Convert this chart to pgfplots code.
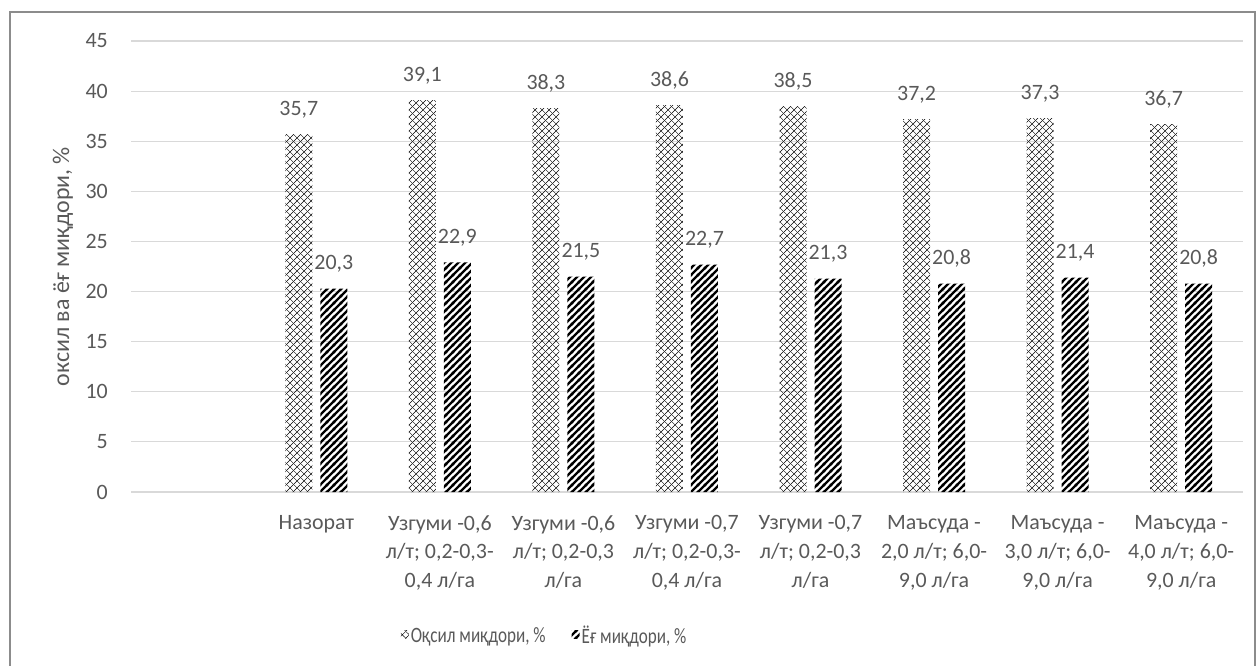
\documentclass[border=0pt]{standalone}
\usepackage{fontspec}
\setmainfont{Carlito}
\newfontfamily\legfont[FakeStretch=0.78]{Carlito}
\usepackage{pgfplots}
\pgfplotsset{compat=1.18}
\usetikzlibrary{patterns}
\definecolor{txt}{HTML}{595959}
\definecolor{gridc}{HTML}{D9D9D9}
\definecolor{framec}{HTML}{8C8C8C}
\pgfdeclarepatternformonly{stripesB}{\pgfqpoint{0bp}{0bp}}{\pgfqpoint{7.3bp}{7.3bp}}{\pgfqpoint{7.3bp}{7.3bp}}{
  \pgfsetlinewidth{2.5bp}
  \pgfpathmoveto{\pgfqpoint{-9.3bp}{-2bp}}\pgfpathlineto{\pgfqpoint{2bp}{9.3bp}}
  \pgfpathmoveto{\pgfqpoint{-2bp}{-2bp}}\pgfpathlineto{\pgfqpoint{9.3bp}{9.3bp}}
  \pgfpathmoveto{\pgfqpoint{5.3bp}{-2bp}}\pgfpathlineto{\pgfqpoint{16.6bp}{9.3bp}}
  \pgfusepath{stroke}}
\pgfdeclarepatternformonly{weaveA}{\pgfqpoint{0bp}{0bp}}{\pgfqpoint{7bp}{7bp}}{\pgfqpoint{7bp}{7bp}}{
  \pgfsetlinewidth{0.45bp}
  \pgfpathmoveto{\pgfqpoint{-1bp}{-1bp}}\pgfpathlineto{\pgfqpoint{8bp}{8bp}}
  \pgfpathmoveto{\pgfqpoint{-1bp}{8bp}}\pgfpathlineto{\pgfqpoint{8bp}{-1bp}}
  \pgfusepath{stroke}}
\begin{document}
\begin{tikzpicture}[x=1bp,y=1bp]
\path[use as bounding box] (0,0) rectangle (1258,-666);
\draw[framec, line width=2bp] (10,-690) -- (10,-12) -- (1255,-12) -- (1255,-690);
\begin{axis}[
  at={(131bp,-492bp)}, anchor=south west,
  scale only axis, width=1112bp, height=451bp,
  xmin=-0.5, xmax=8.5, ymin=0, ymax=45,
  enlargelimits=false,
  ybar=8bp, bar width=27bp,
  axis line style={draw=none},
  major tick length=0pt,
  ymajorgrids, grid style={gridc, line width=1.2bp},
  ytick={0,5,...,45},
  xtick={1,...,8},
  xticklabels={Назорат,
    {Узгуми -0,6\\л/т; 0,2-0,3-\\0,4 л/га},
    {Узгуми -0,6\\л/т; 0,2-0,3\\л/га},
    {Узгуми -0,7\\л/т; 0,2-0,3-\\0,4 л/га},
    {Узгуми -0,7\\л/т; 0,2-0,3\\л/га},
    {Маъсуда -\\2,0 л/т; 6,0-\\9,0 л/га},
    {Маъсуда -\\3,0 л/т; 6,0-\\9,0 л/га},
    {Маъсуда -\\4,0 л/т; 6,0-\\9,0 л/га}},
  xticklabel style={align=center, anchor=north, inner sep=0pt, yshift=-23bp,
    font=\fontsize{22}{29}\selectfont, text=txt},
  yticklabel style={anchor=east, inner sep=0pt, xshift=-23bp,
    font=\fontsize{22}{26}\selectfont, text=txt},
  /pgf/number format/assume math mode=true,
  ylabel={оксил ва ёғ миқдори, \%},
  every axis y label/.style={at={(axis description cs:-0.0612,0.5)}, rotate=90, anchor=center,
    font=\fontsize{24}{28}\selectfont, text=txt},
  nodes near coords,
  nodes near coords style={font=\fontsize{22}{26}\selectfont, text=txt, anchor=south, inner sep=0pt, yshift=16bp,
    /pgf/number format/.cd, fixed, fixed zerofill, precision=1, use comma, assume math mode=true},
  legend style={at={(axis description cs:0.372,-0.319)}, anchor=center, draw=none, fill=none,
    legend columns=2, font=\legfont\fontsize{22}{24}\selectfont, text=txt, inner sep=0pt,
    /tikz/every odd column/.style={column sep=0bp},
    /tikz/every even column/.style={column sep=24bp}},
  legend image code/.code={\path[#1, draw=none] (0bp,-3bp) rectangle (8bp,5bp);},
]
\addplot[draw=none, pattern=weaveA, pattern color=black]
  coordinates {(1,35.7) (2,39.1) (3,38.3) (4,38.6) (5,38.5) (6,37.2) (7,37.3) (8,36.7)};
\addlegendentry{Оқсил миқдори, \%}
\addplot[draw=none, pattern=stripesB, pattern color=black]
  coordinates {(1,20.3) (2,22.9) (3,21.5) (4,22.7) (5,21.3) (6,20.8) (7,21.4) (8,20.8)};
\addlegendentry{Ёғ миқдори, \%}
\end{axis}
\end{tikzpicture}
\end{document}
